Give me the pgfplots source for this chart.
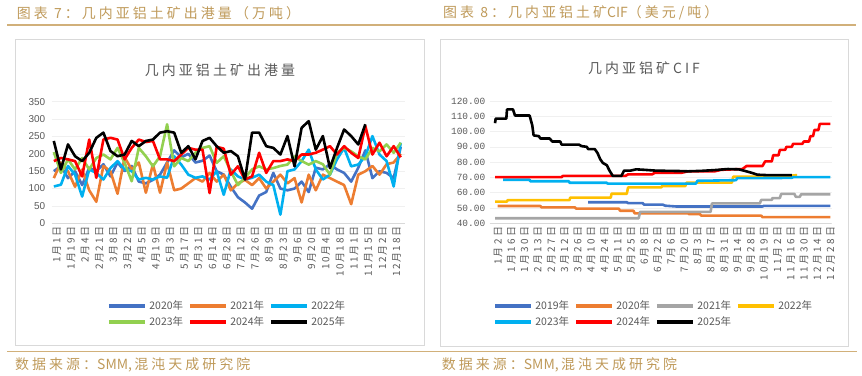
\documentclass[border=0pt]{standalone}
\usepackage{pgfplots}
\pgfplotsset{compat=1.18}
\usepackage{pgfplotstable}
\usepackage{fontspec}
\setmainfont{Liberation Sans}
\newfontfamily\cjk{Noto Sans CJK SC}
\newfontfamily\cjkhead[LetterSpace=22]{Noto Sans CJK SC}
\newfontfamily\cjktick[LetterSpace=16]{Noto Sans CJK SC}
\newfontfamily\cjktickr[LetterSpace=24]{Noto Sans CJK SC}
\newfontfamily\mono{Liberation Mono}

\definecolor{gold}{HTML}{BF9A5A}
\definecolor{goldline}{HTML}{D1B07A}
\definecolor{txt}{HTML}{595959}
\definecolor{frame}{HTML}{D9D9D9}
\definecolor{gridc}{HTML}{F0F0F0}
\definecolor{cA}{HTML}{4472C4}
\definecolor{cB}{HTML}{ED7D31}
\definecolor{cC}{HTML}{A5A5A5}
\definecolor{cD}{HTML}{FFC000}
\definecolor{cE}{HTML}{00B0F0}
\definecolor{cF}{HTML}{92D050}
\definecolor{cR}{HTML}{FF0000}

\pgfplotstableread{
i a b c d e f
0 150 130 106 205 179 237
1 165 175 111 145 188 155
2 130 150 165 184 184 227
3 150 105 140 155 179 193
4 110 155 77 188 135 179
5 160 95 155 155 241 203
6 150 62 145 188 131 246
7 170 165 126 198 241 261
8 135 150 159 184 246 208
9 175 85 179 217 241 193
10 150 190 155 174 184 198
11 165 155 150 121 217 237
12 120 175 126 217 241 222
13 115 88 131 193 234 237
14 125 170 126 164 237 241
15 140 88 135 193 184 261
16 175 175 131 285 184 265
17 210 95 193 164 179 261
18 190 100 169 188 198 203
19 200 115 140 179 217 222
20 175 130 131 203 212 184
21 180 120 135 217 212 237
22 195 145 126 222 87 246
23 150 120 150 174 220 222
24 140 140 82 193 215 203
25 105 95 155 150 140 208
26 75 115 135 110 164 193
27 60 125 126 131 126 126
28 42 110 131 155 135 261
29 80 130 140 164 203 261
30 90 100 120 155 145 222
31 145 120 110 159 179 217
32 100 140 25 165 179 198
33 95 115 150 169 184 251
34 100 130 155 193 179 164
35 120 60 179 179 198 275
36 90 140 212 169 198 294
37 160 95 155 179 203 212
38 155 140 126 170 212 251
39 170 130 140 140 222 159
40 155 120 184 203 198 217
41 145 110 217 217 222 270
42 120 55 164 207 203 251
43 160 140 169 193 188 227
44 210 150 193 184 280 285
45 130 165 251 217 198 nan
46 150 140 198 207 232 nan
47 145 170 179 227 193 nan
48 130 175 106 203 222 nan
49 220 200 232 232 190 nan
}\exports

\pgfplotsset{
  base/.style={
    scale only axis,
    axis line style={draw=none},
    tick style={draw=none},
    ymajorgrids,
    grid style={color=gridc, line width=0.6bp},
    tick label style={color=txt},
    /pgf/number format/assume math mode=true,
    legend cell align=left,
    legend image code/.code={\draw[##1, line width=3.6bp] (0bp,0bp) -- (36bp,0bp);},
    legend style={draw=none, fill=none, inner sep=0pt, text=txt,
      font=\cjk\fontsize{10.5}{11}\selectfont,
      row sep=4.5bp, column sep=2bp,
      nodes={inner sep=0.6bp},
      /tikz/every even column/.append style={column sep=4.5bp}},
    every axis plot/.append style={line width=2.6bp, line join=round},
  }
}

\begin{document}
\begin{tikzpicture}
\useasboundingbox (0,0) rectangle (862bp,376bp);
\begin{scope}[x=1bp, y=-1bp, yshift=376bp]
  \draw[goldline, line width=1.2bp] (7,25) -- (856,25);
  \draw[goldline, line width=1.2bp] (7,351.7) -- (857,351.7);
  \draw[frame, line width=0.8bp] (15,39) rectangle (424.5,345);
  \draw[frame, line width=0.8bp] (440.5,39) rectangle (848.3,346);
  \node[anchor=west, inner sep=0, text=gold, font=\cjkhead\fontsize{14}{16}\selectfont] at (16.7,13) {图表 7：几内亚铝土矿出港量（万吨）};
  \node[anchor=west, inner sep=0, text=gold, font=\cjkhead\fontsize{14}{16}\selectfont] at (443,13) {图表 8：几内亚铝土矿{\cjk CIF}（美元/吨）};
  \node[anchor=west, inner sep=0, text=gold, font=\cjkhead\fontsize{14}{16}\selectfont] at (15,365) {数据来源：{\cjk SMM,\,}混沌天成研究院};
  \node[anchor=west, inner sep=0, text=gold, font=\cjkhead\fontsize{14}{16}\selectfont] at (441.7,365) {数据来源：{\cjk SMM,\,}混沌天成研究院};
  \node[inner sep=0, text=txt, font=\cjkhead\fontsize{14}{16}\selectfont] at (220,70) {几内亚铝土矿出港量};
  \node[inner sep=0, text=txt, font=\cjkhead\fontsize{14}{16}\selectfont] at (644,68) {几内亚铝矿CIF};
\end{scope}

% ---------- left chart ----------
\begin{axis}[base,
  at={(51.7bp,152.7bp)}, anchor=south west,
  width=353.3bp, height=121.6bp,
  xmin=-0.3, xmax=49.6, ymin=0, ymax=350,
  ytick={0,50,...,350},
  yticklabel style={font=\fontsize{10}{12}\selectfont, xshift=-3bp},
  xtick={0,2,...,48},
  xticklabels={1月1日,1月19日,2月4日,2月21日,3月8日,3月22日,4月5日,4月19日,5月3日,5月17日,5月31日,6月14日,6月28日,7月12日,7月26日,8月9日,8月23日,9月6日,9月20日,10月4日,10月18日,11月1日,11月15日,12月2日,12月18日},
  xticklabel style={rotate=90, anchor=east, font=\cjktick\fontsize{10}{10}\selectfont, yshift=-3bp},
  legend columns=3,
  legend style={at={(0.1565,-0.631)}, anchor=north west},
]
\draw[frame, line width=0.8bp] (rel axis cs:0,0) -- (rel axis cs:1,0);
\addplot[cA] table[x=i, y=a] {\exports}; \addlegendentry{2020年}
\addplot[cB] table[x=i, y=b] {\exports}; \addlegendentry{2021年}
\addplot[cE] table[x=i, y=c] {\exports}; \addlegendentry{2022年}
\addplot[cF] table[x=i, y=d] {\exports}; \addlegendentry{2023年}
\addplot[cR] table[x=i, y=e] {\exports}; \addlegendentry{2024年}
\addplot[black] table[x=i, y=f] {\exports}; \addlegendentry{2025年}
\end{axis}

% ---------- right chart ----------
\begin{axis}[base,
  at={(489.7bp,152.7bp)}, anchor=south west,
  width=342bp, height=122.3bp,
  xmin=-0.4, xmax=25.3, ymin=40, ymax=120,
  ytick={40,50,...,120},
  yticklabel style={font=\mono\fontsize{9.5}{12}\selectfont, xshift=-1bp,
    /pgf/number format/.cd, fixed, fixed zerofill, precision=2},
  xtick={0,...,25},
  xticklabels={1月2日,1月16日,1月30日,2月13日,2月27日,3月12日,3月26日,4月10日,4月24日,5月11日,5月25日,6月8日,6月22日,7月6日,7月20日,8月3日,8月17日,8月31日,9月14日,9月28日,10月19日,11月2日,11月16日,11月30日,12月14日,12月28日},
  xticklabel style={rotate=90, anchor=east, font=\cjktickr\fontsize{10}{10}\selectfont, yshift=-3bp},
  legend columns=4,
  legend style={at={(0.0097,-0.627)}, anchor=north west},
]
\draw[frame, line width=0.8bp] (rel axis cs:0,0) -- (rel axis cs:1,0);
\addplot[cA] coordinates {(7,53.8) (9.9,53.8) (10,53.2) (11.1,53.2) (11.2,52.2) (12.6,52.2) (12.8,51.5) (13.6,51) (20.1,51) (20.2,51.4) (25.2,51.4)};
\addlegendentry{2019年}
\addplot[cB] coordinates {(0.2,51.3) (3.4,51.3) (3.5,50.4) (6,50.4) (6.1,49.6) (9.3,49.6) (9.4,48.2) (10.4,48.2) (10.5,46.5) (14.5,46.5) (14.6,46) (15.4,46) (15.5,45) (20,45) (20.1,44) (25.2,44)};
\addlegendentry{2020年}
\addplot[cC] coordinates {(0,43.3) (10.8,43.3) (10.9,47.5) (16.2,47.5) (16.3,53) (19.9,53) (20,55.3) (20.8,55.3) (20.85,56.5) (21.4,56.5) (21.5,59.2) (22.5,59.2) (22.6,57.3) (22.9,57.3) (23,59) (25.2,59)};
\addlegendentry{2021年}
\addplot[cD] coordinates {(0,54.2) (0.9,54.2) (0.95,55.2) (5.6,55.2) (5.65,56.8) (8.7,56.8) (8.75,59.3) (9.9,59.3) (10.0,63.5) (12.5,63.5) (12.55,64.4) (14.3,64.4) (14.4,66.6) (17.8,66.6) (17.9,70.5) (19.9,70.5) (20,71) (22.3,71.2) (22.7,71.5)};
\addlegendentry{2022年}
\addplot[cE] coordinates {(0.6,68.5) (2.6,68.5) (2.65,67.5) (5.55,67.5) (5.6,66.5) (8.4,66.5) (8.45,66) (15.1,66) (15.2,67.8) (18.1,68.2) (18.2,69.5) (22.3,69.7) (22.4,70.2) (25.2,70.2)};
\addlegendentry{2023年}
\addplot[cR] coordinates {(0,70.2) (5.0,70.2) (5.1,71) (9.8,71) (10,72) (11.8,72) (12,73) (14,73) (14.5,74) (16.5,74) (17,75) (18.6,75.5) (18.9,77.5) (20.1,77.5) (20.3,80.5) (20.8,80.5) (20.9,84.5) (21.3,84.5) (21.4,88) (21.8,88) (21.9,90) (22.3,90) (22.4,92) (23.1,92) (23.2,93.5) (23.6,93.5) (23.7,97) (23.9,97) (24.0,101) (24.3,101) (24.4,105) (25.2,105)};
\addlegendentry{2024年}
\addplot[black] coordinates {(0,105.5) (0.05,108.5) (0.85,108.5) (0.9,114.5) (1.35,114.5) (1.5,110.5) (2.6,110.5) (2.8,104) (2.9,97.5) (3.3,97) (3.4,95.5) (4.1,95.5) (4.3,93.5) (4.9,93.5) (5.0,91.5) (6.3,91.5) (6.5,90.5) (6.9,90) (7.0,88.5) (7.5,88.5) (7.7,86) (7.9,82) (8.1,79.5) (8.4,78) (8.6,74.5) (8.85,71) (9.5,71) (9.7,74.5) (10.2,74.5) (10.6,75.3) (11.2,75) (12,74.5) (13,74.3) (13.8,74.2) (14.5,74) (15.5,74.3) (16.5,74.8) (17.5,75.5) (18.3,75.3) (18.8,74.2) (19.3,73) (19.7,71.8) (20.5,71.5) (22.3,71.5)};
\addlegendentry{2025年}
\end{axis}
\end{tikzpicture}
\end{document}
